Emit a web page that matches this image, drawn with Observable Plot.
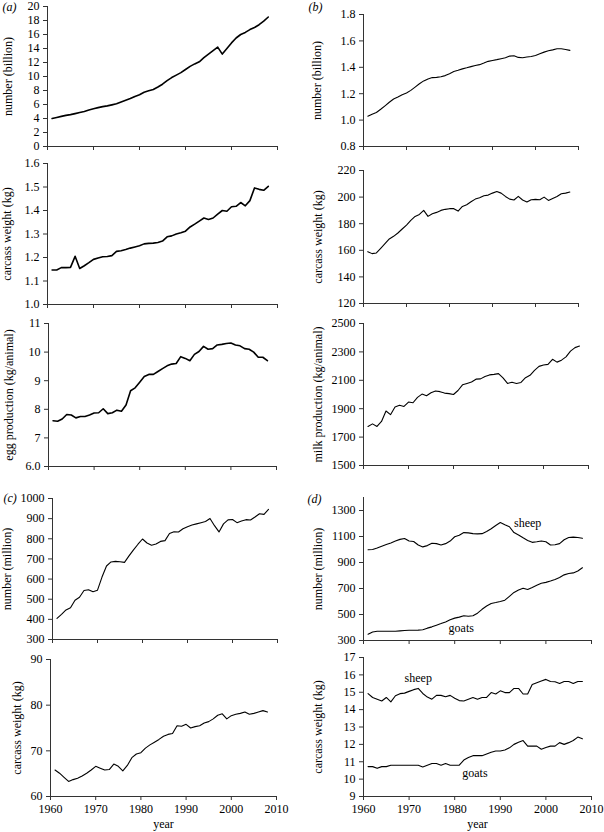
<!DOCTYPE html>
<html>
<head>
<meta charset="utf-8">
<script src="https://cdn.jsdelivr.net/npm/d3@7"></script>
<script src="https://cdn.jsdelivr.net/npm/@observablehq/plot@0.6"></script>
<style>
html, body { margin: 0; padding: 0; background: #fff; }
#chart { position: relative; width: 604px; height: 832px; overflow: hidden; background: #fff; }
#chart svg { position: absolute; left: 0; top: 0; }
</style>
</head>
<body>
<div id="chart"></div>
<script>
// ---------- data ----------
const years = [1961,1962,1963,1964,1965,1966,1967,1968,1969,1970,
  1971,1972,1973,1974,1975,1976,1977,1978,1979,1980,
  1981,1982,1983,1984,1985,1986,1987,1988,1989,1990,
  1991,1992,1993,1994,1995,1996,1997,1998,1999,2000,
  2001,2002,2003,2004,2005,2006,2007,2008];

const decadeTicks = [1960, 1970, 1980, 1990, 2000, 2010];
const decadeTickLabels = ["1960", "1970", "1980", "1990", "2000", "2010"];

// (a) chickens
const chickenNumber = [4.0,4.15,4.3,4.45,4.55,4.7,4.85,5.0,5.2,5.4,
  5.55,5.7,5.8,5.95,6.1,6.35,6.6,6.85,7.15,7.4,
  7.75,7.95,8.15,8.5,8.9,9.4,9.85,10.2,10.55,11.0,
  11.45,11.8,12.1,12.7,13.2,13.7,14.2,13.2,14.0,14.8,
  15.5,16.0,16.3,16.7,17.0,17.4,17.9,18.5];
const chickenCarcass = [1.147,1.147,1.157,1.157,1.158,1.205,1.153,1.165,1.178,1.192,
  1.198,1.203,1.204,1.208,1.226,1.229,1.234,1.24,1.245,1.25,
  1.258,1.26,1.261,1.264,1.27,1.288,1.292,1.3,1.305,1.312,
  1.33,1.342,1.355,1.368,1.362,1.368,1.385,1.4,1.397,1.416,
  1.418,1.434,1.42,1.442,1.496,1.49,1.486,1.503];
const eggProduction = [7.6,7.58,7.66,7.82,7.8,7.7,7.75,7.75,7.8,7.87,
  7.88,8.02,7.85,7.88,7.97,7.93,8.15,8.65,8.75,8.95,
  9.15,9.22,9.22,9.32,9.42,9.52,9.58,9.6,9.84,9.78,
  9.7,9.92,10.02,10.2,10.1,10.12,10.25,10.27,10.3,10.32,
  10.25,10.22,10.12,10.1,10.0,9.82,9.82,9.7];

// (b) cattle
const cattleNumber = [1.03,1.045,1.058,1.082,1.108,1.135,1.16,1.175,1.192,1.205,
  1.225,1.25,1.275,1.297,1.312,1.322,1.324,1.328,1.337,1.352,
  1.368,1.377,1.388,1.396,1.405,1.414,1.42,1.432,1.445,1.452,
  1.458,1.465,1.472,1.485,1.488,1.475,1.472,1.478,1.482,1.49,
  1.503,1.515,1.525,1.532,1.54,1.54,1.535,1.528];
const cattleCarcass = [159,157.5,158,161.5,165,168.5,170.5,173,176,179,
  182.5,185.5,187,190,185.5,187.5,188.5,190,190.8,191.3,
  191.3,189.5,193,194.3,196.5,198.5,199.5,201,201.5,203,
  204.2,203,200.5,198.5,197.8,200.5,197.8,196.3,198,198.3,
  198,200,197.5,199,200.5,202.5,203,203.8];
const milkProduction = [1775,1793,1775,1810,1884,1858,1912,1924,1916,1947,
  1942,1980,2003,1991,2012,2025,2020,2010,2006,2000,
  2028,2068,2078,2088,2108,2110,2126,2138,2142,2147,
  2117,2078,2086,2078,2085,2118,2135,2170,2198,2208,
  2212,2248,2228,2242,2265,2305,2330,2341];

// (c) pigs
const pigNumber = [405,425,447,458,495,510,543,547,537,545,
  610,665,685,688,686,683,715,745,773,799,
  779,768,774,787,791,826,835,834,850,860,
  868,874,880,886,901,865,834,874,894,896,
  880,888,895,893,908,924,921,946];
const pigCarcass = [65.8,65.1,64.2,63.3,63.7,64.0,64.5,65.1,65.8,66.6,
  66.2,65.8,65.9,67.1,66.6,65.6,66.8,68.5,69.3,69.6,
  70.6,71.3,71.9,72.5,73.2,73.6,73.8,75.5,75.4,75.8,
  75.0,75.3,75.5,76.1,76.4,77.0,77.8,78.1,77.0,77.7,
  78.0,78.2,78.5,78.0,78.2,78.5,78.8,78.5];

// (d) sheep and goats
const sheepNumber = [998,1000,1012,1025,1038,1050,1065,1078,1085,1065,
  1062,1035,1020,1030,1048,1045,1035,1045,1065,1098,
  1110,1130,1128,1122,1120,1122,1138,1160,1185,1207,
  1190,1175,1130,1112,1090,1070,1055,1060,1066,1060,
  1035,1036,1045,1075,1092,1095,1092,1086];
const goatNumber = [348,365,371,371,371,371,371,374,377,379,
  379,380,383,395,405,418,430,443,460,472,
  480,490,486,490,510,540,565,585,592,600,
  610,640,670,688,702,692,708,725,740,747,
  758,770,785,805,815,820,835,860];
const sheepCarcass = [14.92,14.7,14.6,14.5,14.7,14.45,14.8,14.92,14.95,15.05,
  15.15,15.22,14.93,14.72,14.6,14.82,14.82,14.74,14.82,14.66,
  14.52,14.5,14.6,14.7,14.6,14.7,14.7,14.98,14.9,15.08,
  14.98,14.98,15.22,15.22,14.9,14.9,15.44,15.55,15.65,15.74,
  15.62,15.6,15.5,15.62,15.62,15.5,15.62,15.62];
const goatCarcass = [10.72,10.72,10.62,10.72,10.72,10.8,10.8,10.8,10.8,10.8,
  10.8,10.8,10.7,10.8,10.9,10.9,10.8,10.9,10.8,10.8,
  10.8,11.1,11.25,11.35,11.35,11.35,11.45,11.55,11.62,11.62,
  11.68,11.8,12.0,12.12,12.22,11.9,11.9,11.9,11.72,11.82,
  11.9,11.9,12.1,12.0,12.1,12.22,12.42,12.32];

// y ticks and tick labels
const ticksA1 = [0,2,4,6,8,10,12,14,16,18,20];
const labelsA1 = ["0","2","4","6","8","10","12","14","16","18","20"];
const ticksA2 = [1.0,1.1,1.2,1.3,1.4,1.5,1.6];
const labelsA2 = ["1.0","1.1","1.2","1.3","1.4","1.5","1.6"];
const ticksA3 = [6,7,8,9,10,11];
const labelsA3 = ["6.0","7","8","9","10","11"];
const ticksB1 = [0.8,1.0,1.2,1.4,1.6,1.8];
const labelsB1 = ["0.8","1.0","1.2","1.4","1.6","1.8"];
const ticksB2 = [120,140,160,180,200,220];
const labelsB2 = ["120","140","160","180","200","220"];
const ticksB3 = [1500,1700,1900,2100,2300,2500];
const labelsB3 = ["1500","1700","1900","2100","2300","2500"];
const ticksC1 = [300,400,500,600,700,800,900,1000];
const labelsC1 = ["300","400","500","600","700","800","900","1000"];
const ticksC2 = [60,70,80,90];
const labelsC2 = ["60","70","80","90"];
const ticksD1 = [300,500,700,900,1100,1300];
const labelsD1 = ["300","500","700","900","1100","1300"];
const ticksD2 = [9,10,11,12,13,14,15,16,17];
const labelsD2 = ["9","10","11","12","13","14","15","16","17"];

// ---------- layout ----------
const W = 604, H = 832;
const FONT = "'Liberation Serif', 'Times New Roman', Times, serif";
const AXIS = "#333";

const panels = [
  {series: [{values: chickenNumber}], domain: [0, 20], ticks: ticksA1, labels: labelsA1,
   title: "number (billion)", frame: {l: 47, r: 277, t: 6, b: 146}, titleDx: -39, sw: 1.6,
   tag: "(a)", tagDx: -45, tagDy: 1},
  {series: [{values: chickenCarcass}], domain: [1.0, 1.6], ticks: ticksA2, labels: labelsA2,
   title: "carcass weight (kg)", frame: {l: 47, r: 277, t: 163, b: 304}, titleDx: -40, sw: 1.6},
  {series: [{values: eggProduction}], domain: [6, 11], ticks: ticksA3, labels: labelsA3,
   title: "egg production (kg/animal)", frame: {l: 48, r: 276, t: 323, b: 466}, titleDx: -39, sw: 1.6},
  {series: [{values: pigNumber}], domain: [300, 1000], ticks: ticksC1, labels: labelsC1,
   title: "number (million)", frame: {l: 52, r: 277, t: 498, b: 639}, titleDx: -45, sw: 1.1,
   tag: "(c)", tagDx: -49, tagDy: 0},
  {series: [{values: pigCarcass}], domain: [60, 90], ticks: ticksC2, labels: labelsC2,
   title: "carcass weight (kg)", frame: {l: 50, r: 276, t: 659, b: 796}, titleDx: -33, sw: 1.1, bottom: true},
  {series: [{values: cattleNumber}], domain: [0.8, 1.8], ticks: ticksB1, labels: labelsB1,
   title: "number (billion)", frame: {l: 363, r: 578, t: 14, b: 146}, titleDx: -46, sw: 1.1,
   tag: "(b)", tagDx: -55, tagDy: -7},
  {series: [{values: cattleCarcass}], domain: [120, 220], ticks: ticksB2, labels: labelsB2,
   title: "carcass weight (kg)", frame: {l: 363, r: 578, t: 170, b: 303}, titleDx: -45, sw: 1.1},
  {series: [{values: milkProduction}], domain: [1500, 2500], ticks: ticksB3, labels: labelsB3,
   title: "milk production (kg/animal)", frame: {l: 363, r: 588, t: 323, b: 465}, titleDx: -45, sw: 1.1},
  {series: [
     {values: sheepNumber, name: "sheep", at: 1996, dx: 0, dy: -17},
     {values: goatNumber, name: "goats", at: 1981, dx: 2, dy: 11}],
   domain: [300, 1400], ticks: ticksD1, labels: labelsD1,
   title: "number (million)", frame: {l: 363, r: 591, t: 497, b: 640}, titleDx: -45, sw: 1.1,
   tag: "(d)", tagDx: -56, tagDy: 2},
  {series: [
     {values: sheepCarcass, name: "sheep", at: 1972, dx: 0, dy: -10},
     {values: goatCarcass, name: "goats", at: 1984, dx: 2, dy: 17}],
   domain: [9, 17], ticks: ticksD2, labels: labelsD2,
   title: "carcass weight (kg)", frame: {l: 363, r: 591, t: 657, b: 796}, titleDx: -45, sw: 1.1, bottom: true}
];

const chart = document.getElementById("chart");

for (const p of panels) {
  const labelOf = new Map(p.ticks.map((t, i) => [t, p.labels[i]]));
  const xLabelOf = new Map(decadeTicks.map((t, i) => [t, decadeTickLabels[i]]));
  const marks = [
    Plot.ruleX([1960], {stroke: AXIS, strokeWidth: 1}),
    Plot.ruleY([p.domain[0]], {stroke: AXIS, strokeWidth: 1}),
    Plot.axisY({ticks: p.ticks, tickSize: 4, tickPadding: 4, stroke: AXIS,
      tickFormat: d => labelOf.get(d), label: null}),
    Plot.axisX({ticks: decadeTicks, tickSize: 4, tickPadding: 4, stroke: AXIS,
      tickFormat: p.bottom ? (d => xLabelOf.get(d)) : (() => ""), label: null}),
    Plot.text([p.title], {frameAnchor: "left", dx: p.titleDx, rotate: -90,
      textAnchor: "middle", lineAnchor: "middle", fill: "#000"})
  ];
  for (const s of p.series) {
    const data = years.map((year, i) => ({year, value: s.values[i]}));
    marks.push(Plot.line(data, {x: "year", y: "value", stroke: "#000", strokeWidth: p.sw}));
    if (s.name) {
      const pt = data.find(d => d.year === s.at);
      marks.push(Plot.text([pt], {x: "year", y: "value", text: () => s.name,
        dx: s.dx, dy: s.dy, textAnchor: "middle", lineAnchor: "middle", fill: "#000"}));
    }
  }
  if (p.tag) {
    marks.push(Plot.text([p.tag], {frameAnchor: "top-left", dx: p.tagDx, dy: p.tagDy,
      textAnchor: "start", lineAnchor: "middle", fontStyle: "italic", fill: "#000"}));
  }
  if (p.bottom) {
    marks.push(Plot.text(["year"], {frameAnchor: "bottom", dy: 28,
      textAnchor: "middle", lineAnchor: "middle", fill: "#000"}));
  }
  const svg = Plot.plot({
    width: W, height: H,
    marginLeft: p.frame.l, marginRight: W - p.frame.r,
    marginTop: p.frame.t, marginBottom: H - p.frame.b,
    style: {background: "transparent", fontFamily: FONT, fontSize: "12px",
      color: "#000", overflow: "visible"},
    x: {domain: [1960, 2010], label: null},
    y: {domain: p.domain, label: null},
    marks
  });
  chart.appendChild(svg);
}
</script>
</body>
</html>
